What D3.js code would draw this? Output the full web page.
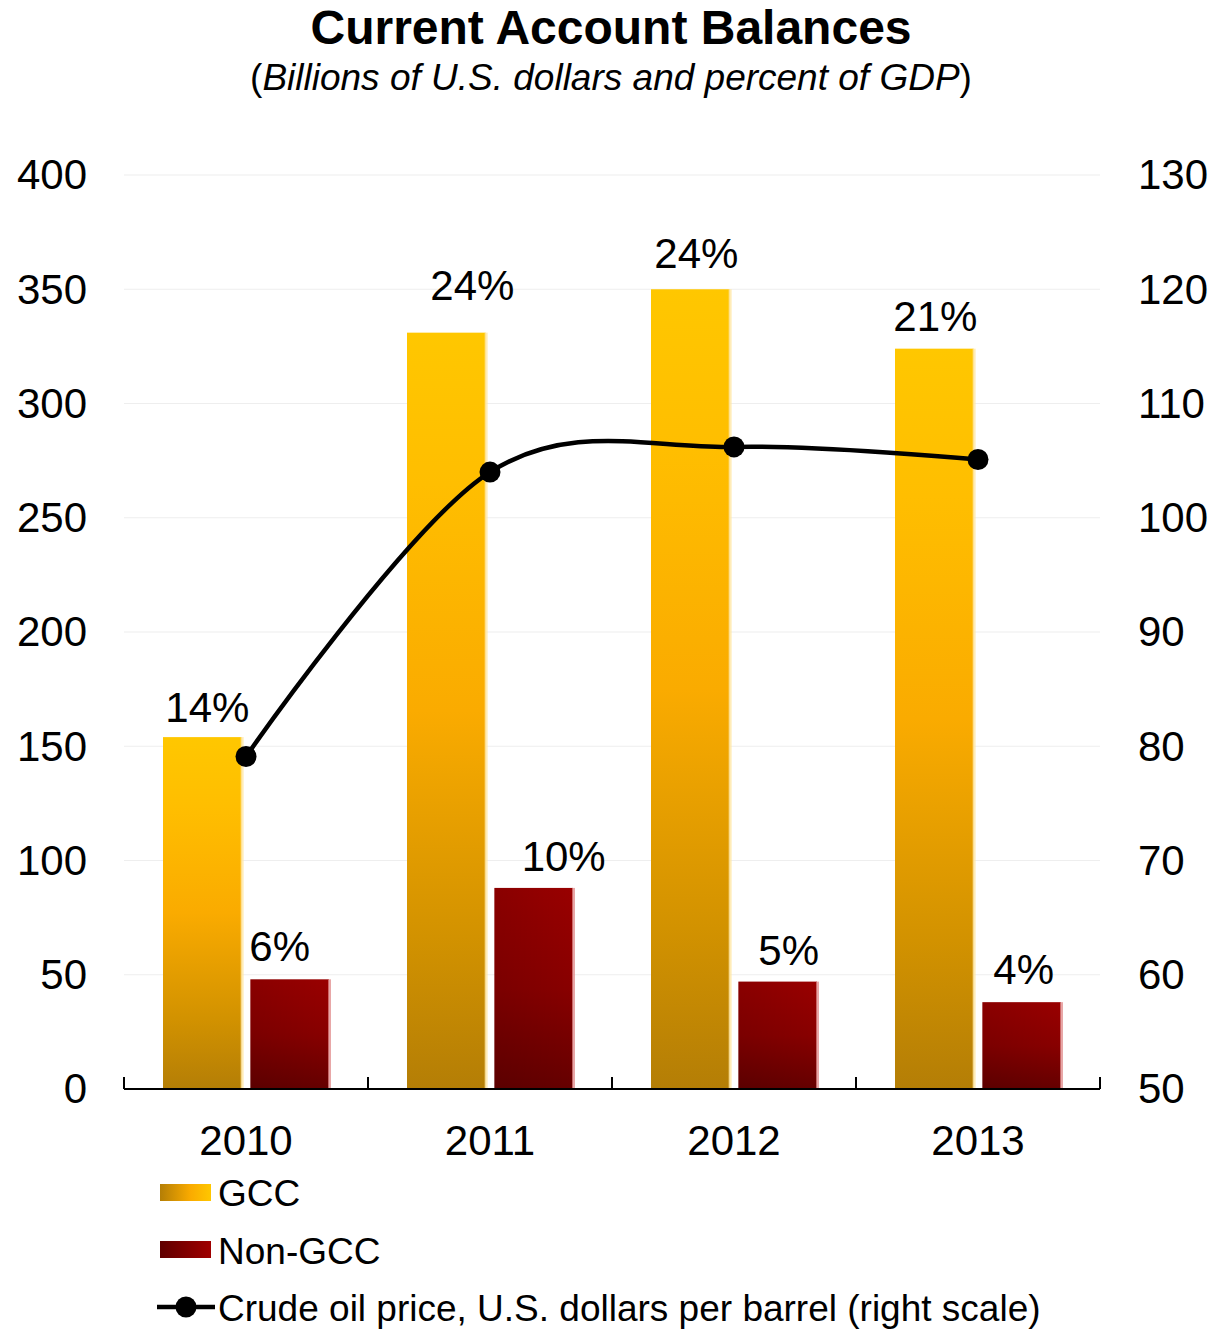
<!DOCTYPE html>
<html>
<head>
    <title>Current Account Balances</title>
    <script src="https://d3js.org/d3.v7.min.js"></script>
    <style>
        body { margin: 0; background: #fff; }
        text { font-family: "Liberation Sans", Arial, sans-serif; fill: #000; }
    </style>
</head>
<body>
    <div id="chart"></div>
    <script>
        // data
        var years = ["2010", "2011", "2012", "2013"];
        var series = ["GCC", "Non-GCC"];
        var gccValues = [154, 331, 350, 324];
        var nonGccValues = [48, 88, 47, 38];
        var gccShares = ["14%", "24%", "24%", "21%"];
        var nonGccShares = ["6%", "10%", "5%", "4%"];
        var oilPrice = [79.1, 104.0, 106.2, 105.1];
        var leftTicks = [0, 50, 100, 150, 200, 250, 300, 350, 400];
        var rightTicks = [50, 60, 70, 80, 90, 100, 110, 120, 130];

        var width = 1211, height = 1331;
        var plotLeft = 124, plotRight = 1100, plotTop = 175, plotBottom = 1089;

        var svg = d3.select("#chart")
            .append("svg")
            .attr("width", width)
            .attr("height", height);

        var defs = svg.append("defs");

        function grad(id, horizontal, stops) {
            var g = defs.append("linearGradient").attr("id", id)
                .attr("x1", 0).attr("y1", 0)
                .attr("x2", horizontal ? 1 : 0).attr("y2", horizontal ? 0 : 1);
            stops.forEach(function(s) {
                g.append("stop").attr("offset", s[0]).attr("stop-color", s[1])
                    .attr("stop-opacity", s[2] === undefined ? 1 : s[2]);
            });
        }
        grad("gccGrad", false, [[0, "#ffc700"], [0.2, "#ffbe00"], [0.5, "#faab00"], [0.8, "#d29200"], [1, "#b47e06"]]);
        grad("nonGrad", false, [[0, "#990000"], [0.5, "#880000"], [1, "#650000"]]);
        grad("shade", true, [[0, "#000", 0.1], [1, "#000", 0]]);
        grad("gccLeg", true, [[0, "#b47e06"], [0.6, "#faab00"], [1, "#ffc700"]]);
        grad("nonLeg", true, [[0, "#600000"], [1, "#a00000"]]);

        var x0 = d3.scaleBand().domain(years).range([plotLeft, plotRight]);
        var x1 = d3.scaleBand().domain(series).range([39, 205]).paddingInner(0.1);
        var y = d3.scaleLinear().domain([0, 400]).range([plotBottom, plotTop]);
        var y2 = d3.scaleLinear().domain([50, 130]).range([plotBottom, plotTop]);

        // title
        svg.append("text")
            .attr("x", 611).attr("y", 44)
            .attr("text-anchor", "middle")
            .style("font-size", "48px").style("font-weight", "bold")
            .text("Current Account Balances");
        var sub = svg.append("text")
            .attr("x", 611).attr("y", 90)
            .attr("text-anchor", "middle")
            .style("font-size", "37px");
        sub.append("tspan").text("(");
        sub.append("tspan").style("font-style", "italic").text("Billions of U.S. dollars and percent of GDP");
        sub.append("tspan").text(")");

        // gridlines
        svg.append("g").selectAll("line")
            .data(leftTicks.slice(1))
            .enter().append("line")
            .attr("x1", plotLeft).attr("x2", plotRight)
            .attr("y1", function(d) { return y(d); })
            .attr("y2", function(d) { return y(d); })
            .attr("stroke", "#eeeeee").attr("stroke-width", 1.2);

        // axis labels
        var leftAxis = svg.append("g")
            .attr("transform", "translate(" + (plotLeft - 37) + ",0)")
            .call(d3.axisLeft(y).tickValues(leftTicks).tickSize(0).tickPadding(0));
        leftAxis.select(".domain").remove();
        leftAxis.selectAll("text")
            .style("font-size", "42px")
            .style("font-family", "Liberation Sans, Arial, sans-serif")
            .attr("fill", "#000")
            .attr("dy", "0.33em");

        var rightAxis = svg.append("g")
            .attr("transform", "translate(" + (plotRight + 38) + ",0)")
            .call(d3.axisRight(y2).tickValues(rightTicks).tickSize(0).tickPadding(0));
        rightAxis.select(".domain").remove();
        rightAxis.selectAll("text")
            .style("font-size", "42px")
            .style("font-family", "Liberation Sans, Arial, sans-serif")
            .attr("fill", "#000")
            .attr("dy", "0.33em");

        // bars
        var rows = years.map(function(yr, i) {
            return [
                { year: yr, idx: i, key: "GCC", value: gccValues[i], label: gccShares[i] },
                { year: yr, idx: i, key: "Non-GCC", value: nonGccValues[i], label: nonGccShares[i] }
            ];
        });
        var groups = svg.append("g").selectAll("g")
            .data(rows)
            .enter().append("g")
            .attr("transform", function(d, i) { return "translate(" + x0(years[i]) + ",0)"; });

        var bar = groups.selectAll("g")
            .data(function(d) { return d; })
            .enter().append("g");

        bar.append("rect")
            .attr("x", function(d) { return x1(d.key); })
            .attr("y", function(d) { return y(d.value); })
            .attr("width", x1.bandwidth())
            .attr("height", function(d) { return y(0) - y(d.value); })
            .attr("fill", function(d) { return d.key === "GCC" ? "url(#gccGrad)" : "url(#nonGrad)"; });
        // slight darkening to the left on the red bars
        bar.filter(function(d) { return d.key === "Non-GCC"; })
            .append("rect")
            .attr("x", function(d) { return x1(d.key); })
            .attr("y", function(d) { return y(d.value); })
            .attr("width", x1.bandwidth())
            .attr("height", function(d) { return y(0) - y(d.value); })
            .attr("fill", "url(#shade)");
        // light right edge
        bar.append("rect")
            .attr("x", function(d) { return x1(d.key) + x1.bandwidth() - 1; })
            .attr("y", function(d) { return y(d.value); })
            .attr("width", 3)
            .attr("height", function(d) { return y(0) - y(d.value); })
            .attr("fill", function(d) { return d.key === "GCC" ? "#ffe6a0" : "#e08a8a"; })
            .attr("opacity", 0.75);

        // share labels, small nudges as placed in the original
        var nudgeX = { "GCC": [5, 26, 6, 1], "Non-GCC": [-10, 30, 11, 2] };
        var gapY = { "GCC": [15, 33, 21, 18], "Non-GCC": [18, 17, 17, 18] };
        bar.append("text")
            .attr("x", function(d) { return x1(d.key) + x1.bandwidth() / 2 + nudgeX[d.key][d.idx]; })
            .attr("y", function(d) { return y(d.value) - gapY[d.key][d.idx]; })
            .attr("text-anchor", "middle")
            .style("font-size", "42px")
            .text(function(d) { return d.label; });

        // x axis
        var xAxis = svg.append("g")
            .attr("transform", "translate(0," + plotBottom + ")");
        xAxis.append("line")
            .attr("x1", plotLeft).attr("x2", plotRight)
            .attr("stroke", "#000").attr("stroke-width", 2);
        xAxis.selectAll(".tk")
            .data(d3.range(years.length + 1))
            .enter().append("line")
            .attr("class", "tk")
            .attr("x1", function(d) { return plotLeft + d * x0.step(); })
            .attr("x2", function(d) { return plotLeft + d * x0.step(); })
            .attr("y1", 0).attr("y2", -12)
            .attr("stroke", "#000").attr("stroke-width", 2);
        xAxis.selectAll("text")
            .data(years)
            .enter().append("text")
            .attr("x", function(d) { return x0(d) + x0.bandwidth() / 2; })
            .attr("y", 66)
            .attr("text-anchor", "middle")
            .style("font-size", "42px")
            .text(function(d) { return d; });

        // oil price line
        var line = d3.line()
            .x(function(d, i) { return x0(years[i]) + x0.bandwidth() / 2; })
            .y(function(d) { return y2(d); })
            .curve(d3.curveCardinal.tension(0));
        svg.append("path")
            .datum(oilPrice)
            .attr("d", line)
            .attr("fill", "none")
            .attr("stroke", "#000")
            .attr("stroke-width", 4.5);
        svg.append("g").selectAll("circle")
            .data(oilPrice)
            .enter().append("circle")
            .attr("cx", function(d, i) { return x0(years[i]) + x0.bandwidth() / 2; })
            .attr("cy", function(d) { return y2(d); })
            .attr("r", 10.5)
            .attr("fill", "#000");

        // legend
        var legend = svg.append("g");
        legend.append("rect").attr("x", 160).attr("y", 1184).attr("width", 51).attr("height", 17).attr("fill", "url(#gccLeg)");
        legend.append("rect").attr("x", 160).attr("y", 1241).attr("width", 51).attr("height", 17).attr("fill", "url(#nonLeg)");
        legend.append("line").attr("x1", 157).attr("x2", 215).attr("y1", 1307).attr("y2", 1307)
            .attr("stroke", "#000").attr("stroke-width", 4.5);
        legend.append("circle").attr("cx", 186).attr("cy", 1307).attr("r", 10.5).attr("fill", "#000");
        var legendText = ["GCC", "Non-GCC", "Crude oil price, U.S. dollars per barrel (right scale)"];
        legend.selectAll("text")
            .data(legendText)
            .enter().append("text")
            .attr("x", 218)
            .attr("y", function(d, i) { return 1206 + i * 57.5; })
            .style("font-size", "37px")
            .text(function(d) { return d; });
    </script>
</body>
</html>
